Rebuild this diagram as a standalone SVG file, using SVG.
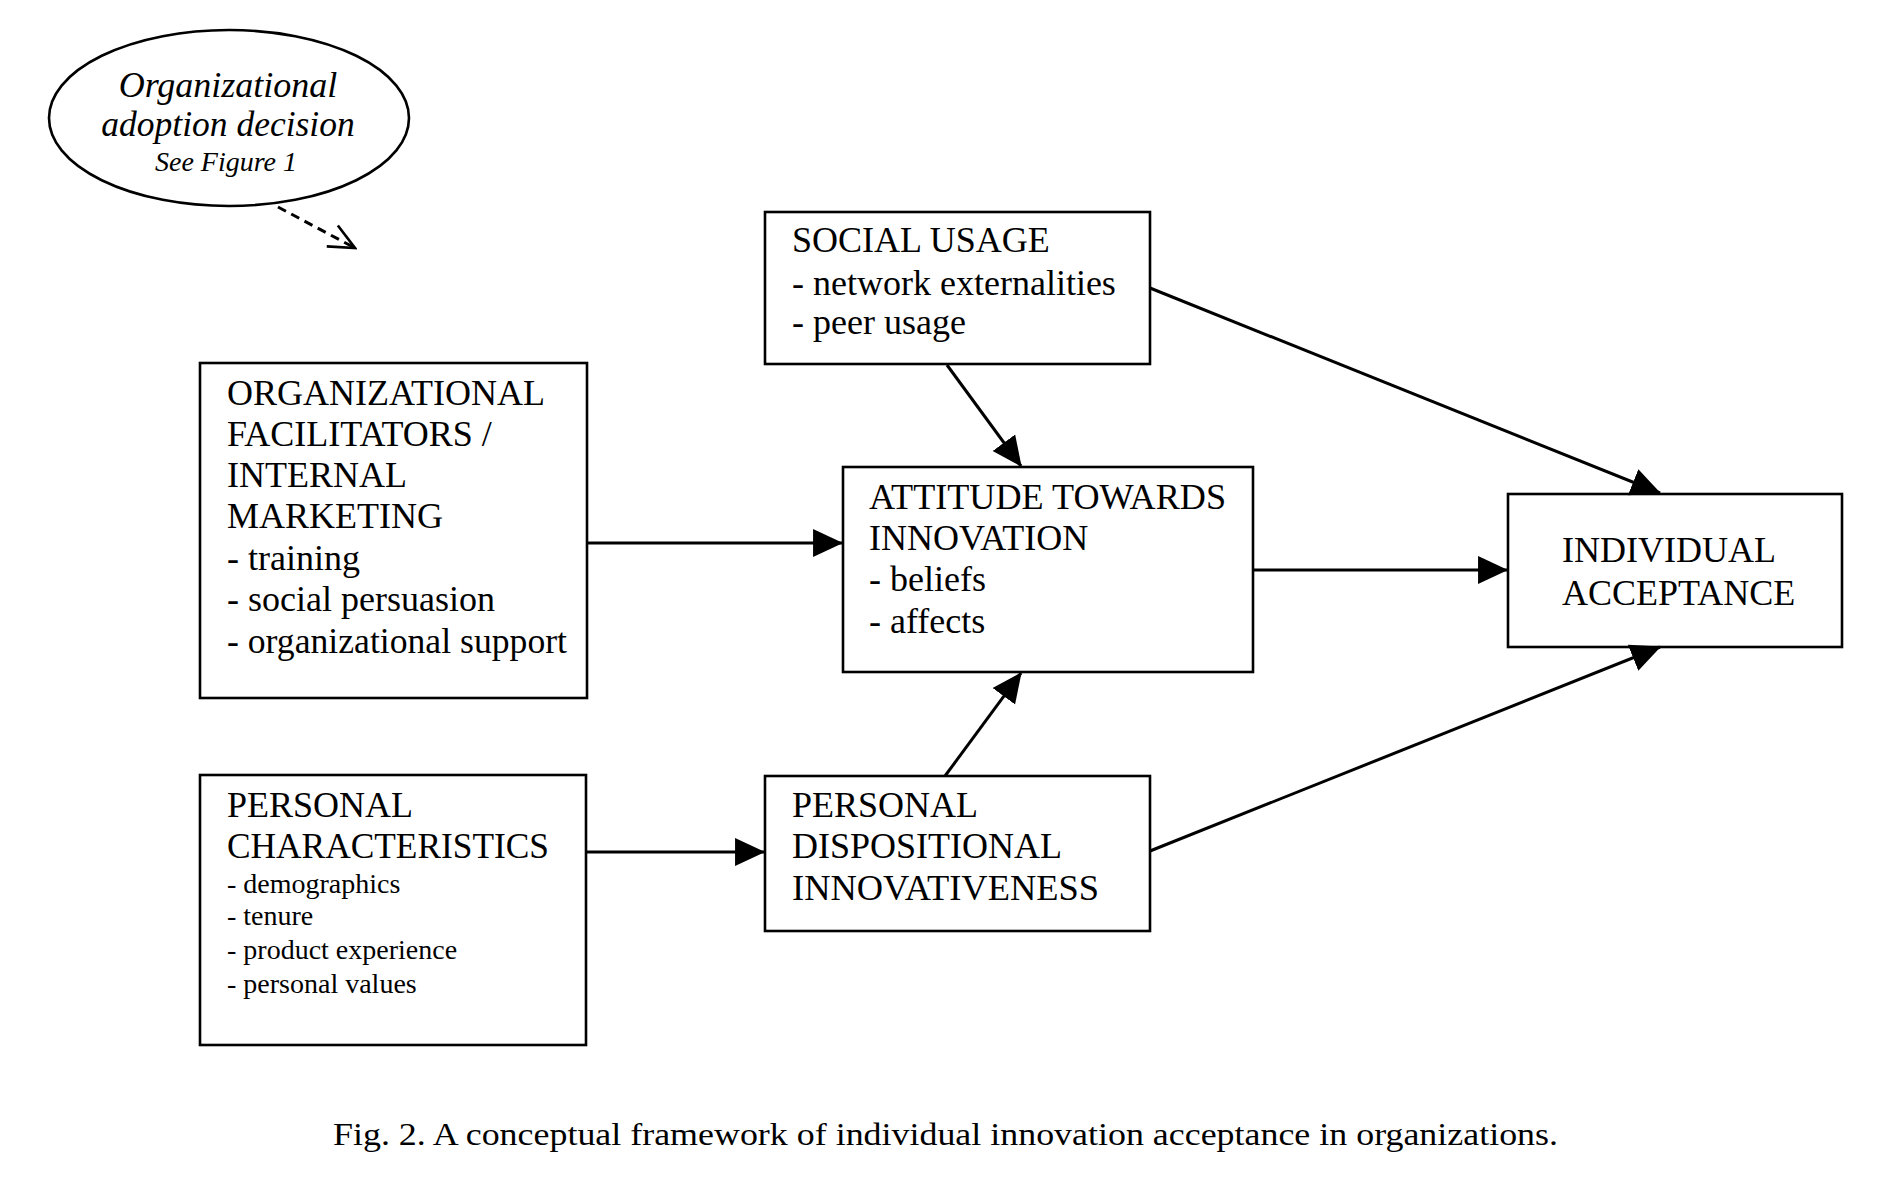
<svg xmlns="http://www.w3.org/2000/svg" width="1887" height="1192" viewBox="0 0 1887 1192">
<style>
.box{fill:#fff;stroke:#000;stroke-width:2.6}
.t{font-family:"Liberation Serif","Times New Roman",serif;font-size:36px;fill:#000}
.s{font-family:"Liberation Serif","Times New Roman",serif;font-size:28px;fill:#000}
.it{font-family:"Liberation Serif","Times New Roman",serif;font-style:italic;fill:#000;text-anchor:middle}
.cap{font-family:"Liberation Serif","Times New Roman",serif;font-size:32px;fill:#000}
.c{stroke:#000;stroke-width:3;fill:none}
</style>
<defs>
<marker id="arr" markerUnits="userSpaceOnUse" markerWidth="30" markerHeight="30" viewBox="0 0 28 26" refX="27" refY="13" orient="auto">
<path d="M0,0 L28,13 L0,26 z" fill="#000"/>
</marker>
<marker id="open" markerUnits="userSpaceOnUse" markerWidth="30" markerHeight="30" viewBox="0 0 28 26" refX="26" refY="13" orient="auto">
<path d="M2,2 L26,13 L2,24" fill="none" stroke="#000" stroke-width="2.5"/>
</marker>
</defs>
<rect width="1887" height="1192" fill="#fff"/>

<g id="adoption">
<ellipse cx="229" cy="118" rx="180" ry="88" fill="#fff" stroke="#000" stroke-width="2.6"/>
<text class="it" x="228" y="97" font-size="36">Organizational</text>
<text class="it" x="228" y="136" font-size="35.5">adoption decision</text>
<text class="it" x="226" y="171" font-size="28">See Figure 1</text>
</g>

<g id="org-facilitators">
<rect class="box" x="200" y="363" width="387" height="335"/>
<text class="t" x="227" y="405">ORGANIZATIONAL</text>
<text class="t" x="227" y="446">FACILITATORS /</text>
<text class="t" x="227" y="487">INTERNAL</text>
<text class="t" x="227" y="528">MARKETING</text>
<text class="t" x="227" y="570">- training</text>
<text class="t" x="227" y="611">- social persuasion</text>
<text class="t" x="227" y="653" textLength="340" lengthAdjust="spacingAndGlyphs">- organizational support</text>
</g>

<g id="personal-characteristics">
<rect class="box" x="200" y="775" width="386" height="270"/>
<text class="t" x="227" y="817">PERSONAL</text>
<text class="t" x="227" y="858" textLength="322" lengthAdjust="spacingAndGlyphs">CHARACTERISTICS</text>
<text class="s" x="227" y="893">- demographics</text>
<text class="s" x="227" y="925">- tenure</text>
<text class="s" x="227" y="959">- product experience</text>
<text class="s" x="227" y="993">- personal values</text>
</g>

<g id="social-usage">
<rect class="box" x="765" y="212" width="385" height="152"/>
<text class="t" x="792" y="252">SOCIAL USAGE</text>
<text class="t" x="792" y="295">- network externalities</text>
<text class="t" x="792" y="334">- peer usage</text>
</g>

<g id="attitude">
<rect class="box" x="843" y="467" width="410" height="205"/>
<text class="t" x="869" y="509" textLength="357" lengthAdjust="spacingAndGlyphs">ATTITUDE TOWARDS</text>
<text class="t" x="869" y="550">INNOVATION</text>
<text class="t" x="869" y="591">- beliefs</text>
<text class="t" x="869" y="633">- affects</text>
</g>

<g id="dispositional">
<rect class="box" x="765" y="776" width="385" height="155"/>
<text class="t" x="792" y="817">PERSONAL</text>
<text class="t" x="792" y="858">DISPOSITIONAL</text>
<text class="t" x="792" y="900" textLength="307" lengthAdjust="spacingAndGlyphs">INNOVATIVENESS</text>
</g>

<g id="individual-acceptance">
<rect class="box" x="1508" y="494" width="334" height="153"/>
<text class="t" x="1562" y="562">INDIVIDUAL</text>
<text class="t" x="1562" y="605">ACCEPTANCE</text>
</g>

<g id="connectors">
<line class="c" x1="278" y1="207" x2="355" y2="248" stroke-dasharray="9,6" stroke-width="2.5" marker-end="url(#open)"/>
<line class="c" x1="587" y1="543" x2="842" y2="543" marker-end="url(#arr)"/>
<line class="c" x1="586" y1="852" x2="764" y2="852" marker-end="url(#arr)"/>
<line class="c" x1="947" y1="365" x2="1021" y2="466" marker-end="url(#arr)"/>
<line class="c" x1="945" y1="776" x2="1021" y2="673" marker-end="url(#arr)"/>
<line class="c" x1="1253" y1="570" x2="1507" y2="570" marker-end="url(#arr)"/>
<line class="c" x1="1150" y1="288" x2="1660" y2="493" marker-end="url(#arr)"/>
<line class="c" x1="1150" y1="851" x2="1660" y2="647" marker-end="url(#arr)"/>
</g>

<text class="cap" x="333" y="1145" textLength="1225" lengthAdjust="spacingAndGlyphs">Fig. 2. A conceptual framework of individual innovation acceptance in organizations.</text>
</svg>
